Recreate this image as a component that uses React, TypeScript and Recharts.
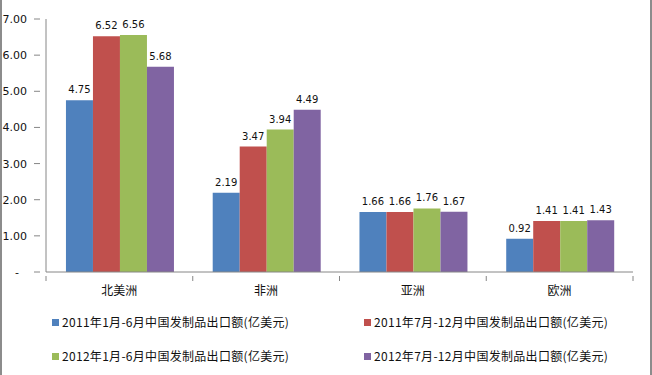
import React from 'react';
import { BarChart, Bar, XAxis, YAxis, LabelList, Legend } from 'recharts';

const categories = ['北美洲', '非洲', '亚洲', '欧洲'];
const seriesNames = [
  '2011年1月-6月中国发制品出口额(亿美元)',
  '2011年7月-12月中国发制品出口额(亿美元)',
  '2012年1月-6月中国发制品出口额(亿美元)',
  '2012年7月-12月中国发制品出口额(亿美元)',
];
const s2011H1 = [4.75, 2.19, 1.66, 0.92];
const s2011H2 = [6.52, 3.47, 1.66, 1.41];
const s2012H1 = [6.56, 3.94, 1.76, 1.41];
const s2012H2 = [5.68, 4.49, 1.67, 1.43];
const yTicks = [0, 1, 2, 3, 4, 5, 6, 7];

const colors = ['#4F81BD', '#C0504D', '#9BBB59', '#8064A2'];
const keys = ['a', 'b', 'c', 'd'];

const data = categories.map((name, i) => ({
  name,
  a: s2011H1[i],
  b: s2011H2[i],
  c: s2012H1[i],
  d: s2012H2[i],
}));

const NUM_FONT = '"DejaVu Sans", sans-serif';
const CJK_FONT = '"Noto Sans CJK SC", sans-serif';
const AXIS = '#868686';

const YTick = (props: any) => {
  const { x, y, payload } = props;
  const v = payload.value;
  const label = v === 0 ? '-' : v.toFixed(2);
  return (
    <g>
      <line x1={x + 7} x2={x + 13} y1={y} y2={y} stroke={AXIS} />
      <text
        x={v === 0 ? x - 8 : x}
        y={y}
        dy={4}
        textAnchor="end"
        fontSize={11}
        fontFamily={NUM_FONT}
        fill="#111"
      >
        {label}
      </text>
    </g>
  );
};

const XTick = (props: any) => {
  const { x, y, payload, index, visibleTicksCount } = props;
  const half = payload && payload.offset ? payload.offset : 73.4;
  const isLast = index === (visibleTicksCount ?? categories.length) - 1;
  return (
    <g>
      <line x1={x - half} x2={x - half} y1={y - 4} y2={y + 1} stroke={AXIS} />
      {isLast && <line x1={x + half} x2={x + half} y1={y - 4} y2={y + 1} stroke={AXIS} />}
      <text x={x} y={y} dy={15} textAnchor="middle" fontSize={12} fontFamily={CJK_FONT} fill="#111">
        {payload.value}
      </text>
    </g>
  );
};

const LegendContent = () => {
  const pos = [
    { x: 52, y: 19 },
    { x: 364, y: 19 },
    { x: 52, y: 53 },
    { x: 364, y: 53 },
  ];
  return (
    <div style={{ position: 'relative', width: 652, height: 70 }}>
      {seriesNames.map((n, i) => (
        <div
          key={n}
          style={{
            position: 'absolute',
            left: pos[i].x,
            top: pos[i].y - 9,
            height: 18,
            display: 'flex',
            alignItems: 'center',
            whiteSpace: 'nowrap',
          }}
        >
          <span
            style={{
              display: 'inline-block',
              width: 7,
              height: 7,
              background: colors[i],
              marginRight: 3,
              marginTop: 3,
            }}
          />
          <span style={{ fontSize: 12, fontFamily: CJK_FONT, color: '#111', letterSpacing: 0.3 }}>{n}</span>
        </div>
      ))}
    </div>
  );
};

export default function App() {
  return (
    <div style={{ position: 'absolute', left: 0, top: 0, width: 652, height: 375, background: '#fff' }}>
      <BarChart
        width={652}
        height={375}
        data={data}
        margin={{ top: 19, right: 19, left: 0, bottom: 3 }}
        barCategoryGap="13.6%"
        barGap={0}
      >
        <YAxis
          width={46}
          domain={[0, 7]}
          ticks={yTicks}
          interval={0}
          axisLine={{ stroke: AXIS }}
          tickLine={false}
          tick={<YTick />}
          tickMargin={13}
        />
        <XAxis
          dataKey="name"
          height={30}
          axisLine={{ stroke: AXIS }}
          tickLine={false}
          tick={<XTick />}
          interval={0}
        />
        <Legend
          verticalAlign="bottom"
          height={70}
          content={<LegendContent />}
          wrapperStyle={{ left: 0, width: 652 }}
        />
        {keys.map((k, i) => (
          <Bar key={k} dataKey={k} name={seriesNames[i]} fill={colors[i]} isAnimationActive={false}>
            <LabelList
              dataKey={k}
              position="top"
              offset={7}
              fontSize={10}
              fontFamily={NUM_FONT}
              fill="#111"
              formatter={(v: any) => Number(v).toFixed(2)}
            />
          </Bar>
        ))}
      </BarChart>
      <div style={{ position: 'absolute', left: 0, top: 0, width: 2, height: 375, background: '#8c8c8c' }} />
      <div style={{ position: 'absolute', left: 650, top: 0, width: 2, height: 375, background: '#8c8c8c' }} />
    </div>
  );
}
